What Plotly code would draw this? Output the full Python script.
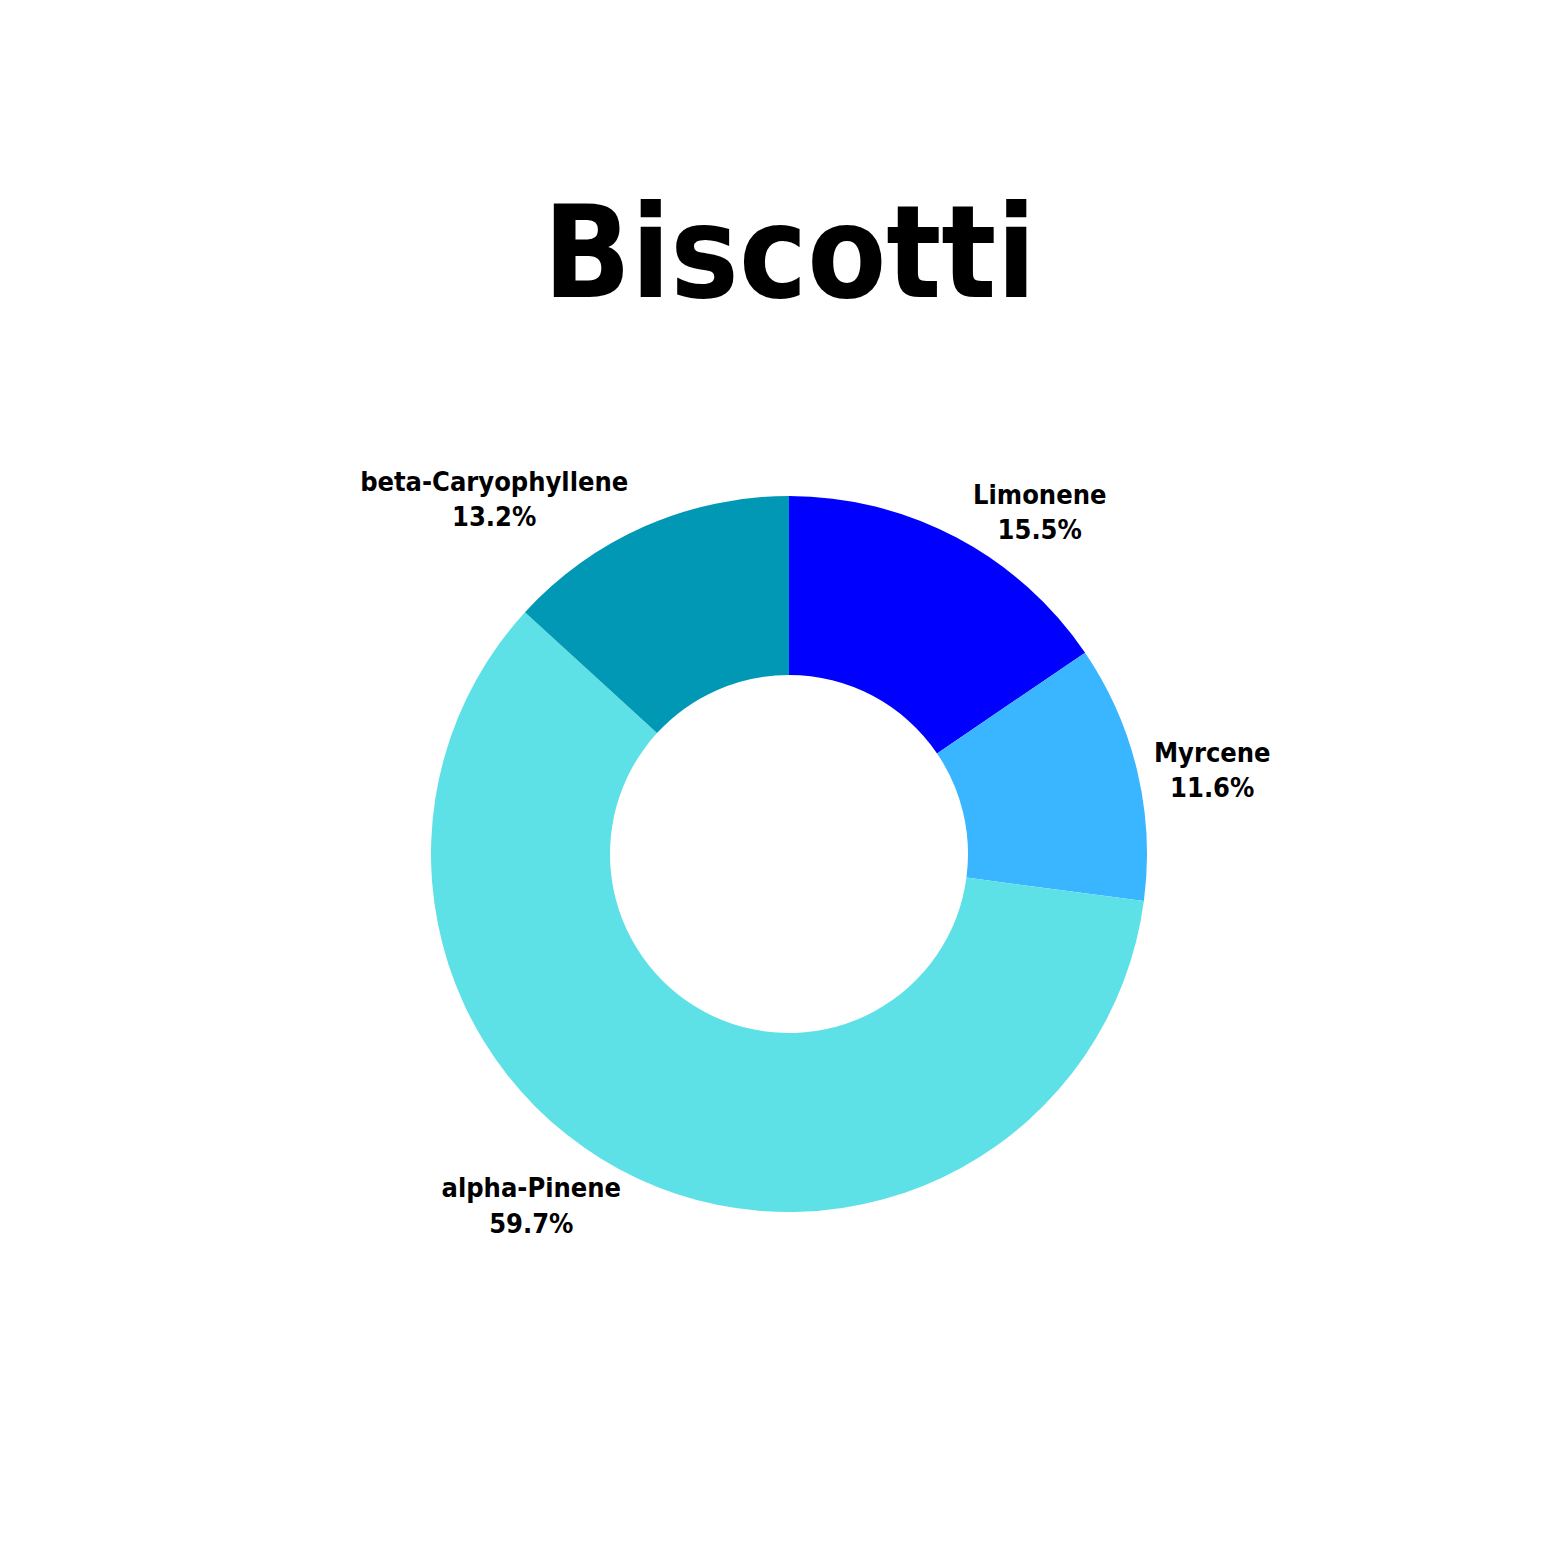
import plotly.graph_objects as go

# Terpene profile
labels = ["Limonene", "Myrcene", "alpha-Pinene", "beta-Caryophyllene"]
values = [15.5, 11.6, 59.7, 13.2]
colors = ["#0000FF", "#3AB5FF", "#5EE1E6", "#0098B4"]

FONT = "Noto Sans ExtraCondensed, Noto Sans Condensed, DejaVu Sans Condensed, sans-serif"

fig = go.Figure(go.Pie(
    labels=labels,
    values=values,
    hole=0.5,
    sort=False,
    direction="clockwise",
    rotation=0,
    marker=dict(colors=colors),
    textposition="outside",
    textinfo="label+percent",
    texttemplate="<b>%{label}</b><br><b>%{percent:.1%}</b>",
    textfont=dict(family=FONT, size=27, color="black"),
    showlegend=False,
))

fig.update_layout(
    width=1563,
    height=1563,
    paper_bgcolor="white",
    plot_bgcolor="white",
    margin=dict(l=423, r=424, t=488, b=359),  # keeps the donut square and centred where it was
    title=dict(
        text="<b>Biscotti</b>",
        x=0.5,
        xanchor="center",
        y=1 - 244 / 1563,
        yref="container",
        yanchor="middle",
        font=dict(family=FONT, size=128, color="black"),
    ),
)

fig.write_html("out.html")
